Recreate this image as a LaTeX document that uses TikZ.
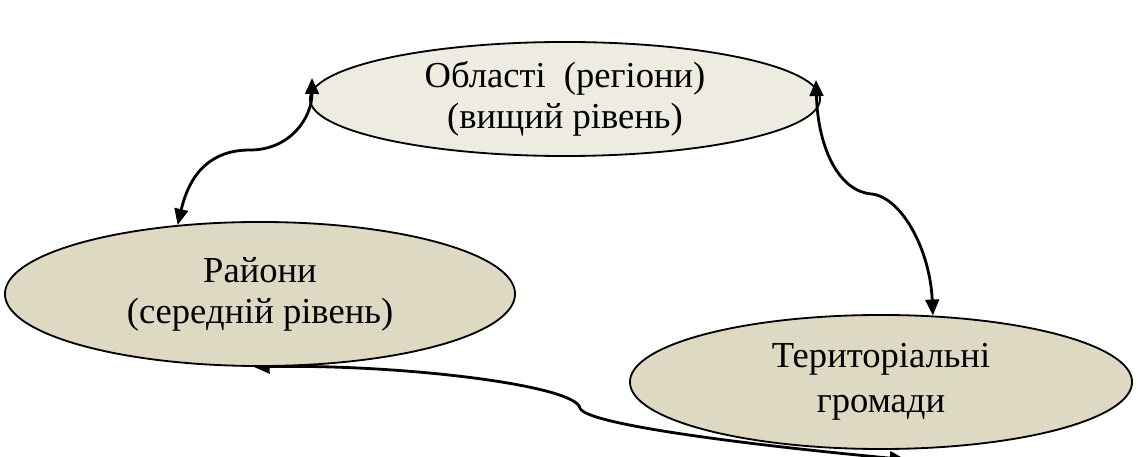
\documentclass[tikz,border=0pt]{standalone}
\usepackage{fontspec}
\setmainfont{Liberation Serif}
\usetikzlibrary{shapes.geometric,arrows.meta,backgrounds}
\definecolor{paleolive}{HTML}{EEECE1}
\definecolor{darkolive}{HTML}{DDD9C3}
\begin{document}
\begin{tikzpicture}[x=0.025cm,y=-0.025cm,>={Triangle[length=4mm,width=3.4mm]},
    level/.style={ellipse,draw,line width=1.3pt,inner sep=0pt,align=center,
      font=\fontsize{26}{29}\selectfont},
    link/.style={<->,line width=2pt}]
  \useasboundingbox (0,0) rectangle (1138,457);
  % the three levels
  \node[level,fill=paleolive,minimum width=12.75cm,minimum height=2.85cm]
    (oblast) at (565,99) {Області~ (регіони)\\(вищий рівень)};
  \node[level,fill=darkolive,minimum width=12.75cm,minimum height=3.6cm]
    (rajon) at (260,294) {Райони\\(середній рівень)};
  \node[level,fill=darkolive,minimum width=12.55cm,minimum height=3.35cm,
    font=\fontsize{26}{32}\selectfont]
    (hromada) at (881,382) {Територіальні\\громади};
  % upper links sit on top of the ellipses
  \draw[link] (rajon.140) .. controls (190,172) and (212,150) .. (250,150)
    .. controls (290,150) and (312,118) .. ([shift={(3,-21)}]oblast.west);
  \draw[link] ([shift={(-5,-19)}]oblast.east) .. controls (818,150) and (840,192) .. (872,194)
    .. controls (902,198) and (930,250) .. (hromada.52);
  % the lower one runs behind them
  \begin{pgfonlayer}{background}
    \draw[link] (rajon.265) .. controls (400,364) and (575,385) .. (580,408)
      .. controls (585,425) and (760,446) .. ([yshift=-0.25cm]hromada.-70);
  \end{pgfonlayer}
\end{tikzpicture}
\end{document}
